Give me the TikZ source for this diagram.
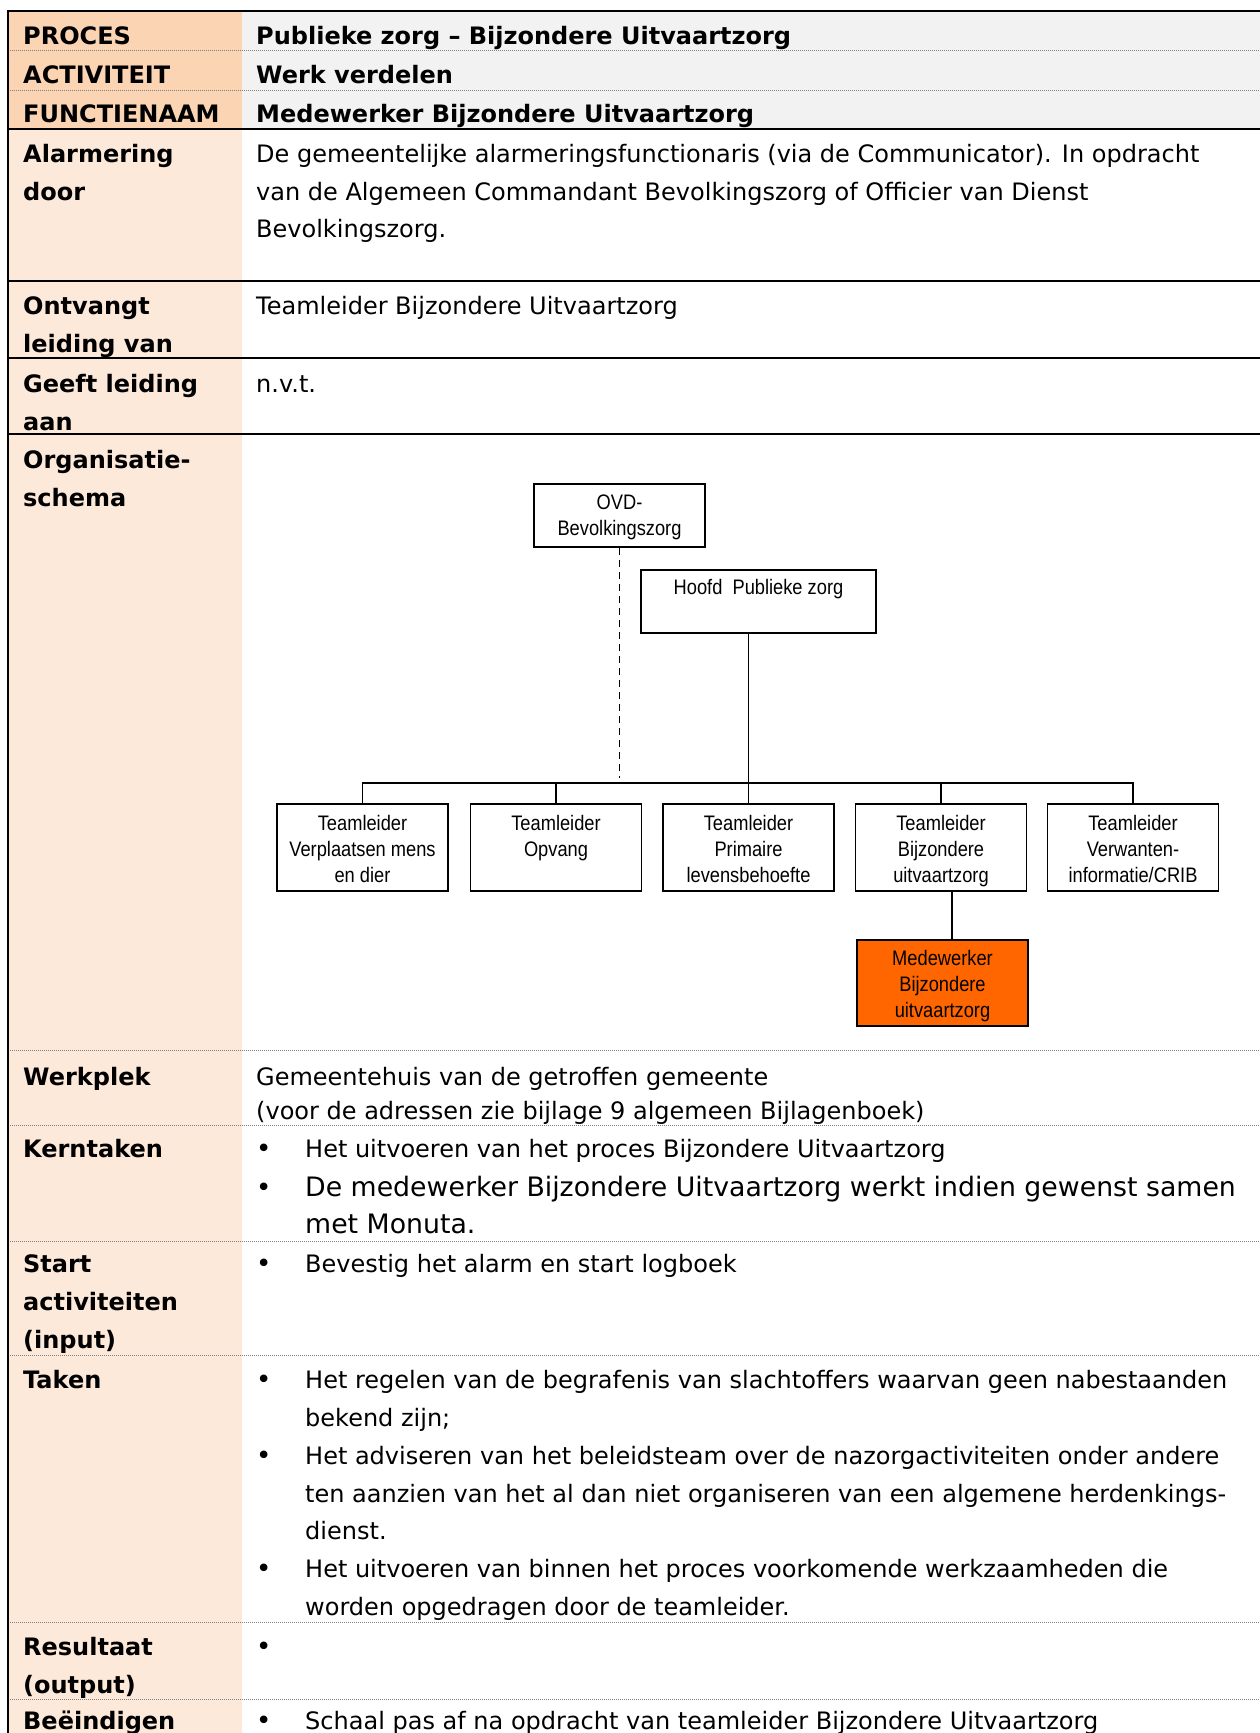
\documentclass[tikz,border=0pt]{standalone}
\usepackage{fontspec}
\setmainfont{DejaVu Sans}
\newfontfamily\orgfont[FakeStretch=0.87]{Liberation Sans}
\usetikzlibrary{calc}
\definecolor{hdrlab}{HTML}{FBD4B4}
\definecolor{hdrval}{HTML}{F2F2F2}
\definecolor{bodylab}{HTML}{FDE9D9}
\definecolor{orgorange}{HTML}{FF6600}
\definecolor{dotgray}{HTML}{808080}
\newcommand\mytstrut{\rule{0pt}{24pt}}
\newcommand\myostrut{\rule{0pt}{17pt}}
\begin{document}
\begin{tikzpicture}[x=1pt,y=-1pt,
  thickrule/.style={line width=2.2pt, black},
  dotrule/.style={line width=1pt, dotgray, dash pattern=on 1pt off 1pt},
  lab/.style={anchor=north west, inner sep=0pt, align=left, font=\bfseries\fontsize{24}{37.8}\selectfont},
  val/.style={anchor=north west, inner sep=0pt, align=left, font=\fontsize{24}{37.8}\selectfont},
  bul/.style={anchor=base west, inner sep=0pt, font=\fontsize{26}{26}\selectfont},
  orgbox/.style={draw, line width=1.8pt, minimum width=171pt, minimum height=87pt, inner sep=0pt},
  orgtext/.style={anchor=north, inner sep=0pt, align=center, font=\orgfont\fontsize{21}{26}\selectfont},
  orgline/.style={line width=1.8pt},
]
\useasboundingbox (0,0) rectangle (1260,1733);
\clip (0,0) rectangle (1260,1733);
% backgrounds
\fill[hdrlab] (8,11) rectangle (242,129);
\fill[hdrval] (242,11) rectangle (1260,129);
\fill[bodylab] (8,129) rectangle (242,1733);
% rules
\foreach \yy in {50,90,1050,1125,1241,1355,1622,1699} \draw[dotrule] (8,\yy) -- (1260,\yy);
\foreach \yy in {11,129,281,358,434} \draw[thickrule] (7,\yy) -- (1260,\yy);
\draw[thickrule] (8,10) -- (8,1733);

% header
\node[lab] (lproc) at (23,20.5) {\mytstrut PROCES};
\node[lab] (vproc) at (256,20.5) {\mytstrut Publieke zorg – Bijzondere Uitvaartzorg};
\node[lab] (lact) at (23,59.5) {\mytstrut ACTIVITEIT};
\node[lab] (vact) at (256,59.5) {\mytstrut Werk verdelen};
\node[lab] (lfun) at (23,98.5) {\mytstrut FUNCTIENAAM};
\node[lab] (vfun) at (256,98.5) {\mytstrut Medewerker Bijzondere Uitvaartzorg};

% rows
\node[lab] (lalarm) at (23,138) {\mytstrut Alarmering\\door};
\node[val] (valarm) at (256,138) {\mytstrut De gemeentelijke alarmeringsfunctionaris (via de Communicator). In opdracht\\van de Algemeen Commandant Bevolkingszorg of Officier van Dienst\\Bevolkingszorg.};
\node[lab] (lontv) at (23,290.5) {\mytstrut Ontvangt\\leiding van};
\node[val] (vontv) at (256,290.5) {\mytstrut Teamleider Bijzondere Uitvaartzorg};
\node[lab] (lgeeft) at (23,368) {\mytstrut Geeft leiding\\aan};
\node[val] (vgeeft) at (256,368) {\mytstrut n.v.t.};
\node[lab] (lorg) at (23,444.5) {\mytstrut Organisatie-\\schema};

\node[lab] (lwerk) at (23,1061.5) {\mytstrut Werkplek};
\node[val, font=\fontsize{24}{34}\selectfont] (vwerk) at (256,1061.5) {\mytstrut Gemeentehuis van de getroffen gemeente\\(voor de adressen zie bijlage 9 algemeen Bijlagenboek)};

\node[lab] (lkern) at (23,1133.5) {\mytstrut Kerntaken};
\node[bul] (bk1) at (256,1157.5) {•};
\node[val] (vk1) at (305,1133.5) {\mytstrut Het uitvoeren van het proces Bijzondere Uitvaartzorg};
\node[bul] (bk2) at (256,1196) {•};
\node[val, font=\fontsize{26.75}{37}\selectfont] (vk2) at (305,1172) {\mytstrut De medewerker Bijzondere Uitvaartzorg werkt indien gewenst samen\\met Monuta.};

\node[lab] (lstart) at (23,1248.5) {\mytstrut Start\\activiteiten\\(input)};
\node[bul] (bs1) at (256,1272.5) {•};
\node[val] (vs1) at (305,1248.5) {\mytstrut Bevestig het alarm en start logboek};

\node[lab] (ltaken) at (23,1364.5) {\mytstrut Taken};
\node[bul] (bt1) at (256,1388.5) {•};
\node[val] (vt1) at (305,1364.5) {\mytstrut Het regelen van de begrafenis van slachtoffers waarvan geen nabestaanden\\bekend zijn;};
\node[bul] (bt2) at (256,1464.1) {•};
\node[val] (vt2) at (305,1440.1) {\mytstrut Het adviseren van het beleidsteam over de nazorgactiviteiten onder andere\\ten aanzien van het al dan niet organiseren van een algemene herdenkings-\\dienst.};
\node[bul] (bt3) at (256,1577.5) {•};
\node[val] (vt3) at (305,1553.5) {\mytstrut Het uitvoeren van binnen het proces voorkomende werkzaamheden die\\worden opgedragen door de teamleider.};

\node[lab] (lres) at (23,1631.5) {\mytstrut Resultaat\\(output)};
\node[bul] (br1) at (256,1655.5) {•};

\node[lab] (lbeein) at (23,1705.5) {\mytstrut Beëindigen};
\node[bul] (bb1) at (256,1729.5) {•};
\node[val] (vb1) at (305,1705.5) {\mytstrut Schaal pas af na opdracht van teamleider Bijzondere Uitvaartzorg};

% org chart
\node[orgbox, minimum height=63pt] (ovd) at (619.5,515.5) {};
\node[orgbox, minimum width=235pt, minimum height=63pt] (hoofd) at (758.5,601.5) {};
\node[orgbox] (b1) at (362.5,847.5) {};
\node[orgbox] (b2) at (556,847.5) {};
\node[orgbox] (b3) at (748.5,847.5) {};
\node[orgbox] (b4) at (941,847.5) {};
\node[orgbox] (b5) at (1133,847.5) {};
\node[orgbox, fill=orgorange, minimum height=86pt] (med) at (942.5,983) {};

\node[orgtext] (tovd) at (619.5,492.5) {\myostrut OVD-\\Bevolkingszorg};
\node[orgtext] (thoofd) at (758.5,577.5) {\myostrut Hoofd\ \ Publieke zorg};
\node[orgtext] (tb1) at (362.5,813.5) {\myostrut Teamleider\\Verplaatsen mens\\en dier};
\node[orgtext] (tb2) at (556,813.5) {\myostrut Teamleider\\Opvang};
\node[orgtext] (tb3) at (748.5,813.5) {\myostrut Teamleider\\Primaire\\levensbehoefte};
\node[orgtext] (tb4) at (941,813.5) {\myostrut Teamleider\\Bijzondere\\uitvaartzorg};
\node[orgtext] (tb5) at (1133,813.5) {\myostrut Teamleider\\Verwanten-\\informatie/CRIB};
\node[orgtext] (tmed) at (942.5,948.5) {\myostrut Medewerker\\Bijzondere\\uitvaartzorg};

\coordinate (bar) at (0,783);
\coordinate (dashend) at (619.5,778);
\draw[orgline, dash pattern=on 7pt off 5pt] (ovd.south) -- (dashend);
\draw[orgline] (b1.north) -- (b1.north |- bar) -- (b5.north |- bar) -- (b5.north);
\draw[orgline] (b2.north) -- (b2.north |- bar);
\draw[orgline] (hoofd.south -| b3.north) -- (b3.north);
\draw[orgline] (b4.north) -- (b4.north |- bar);
\draw[orgline] ([xshift=11pt]b4.south) -- ([xshift=11pt]b4.south |- med.north);
\end{tikzpicture}
\end{document}
